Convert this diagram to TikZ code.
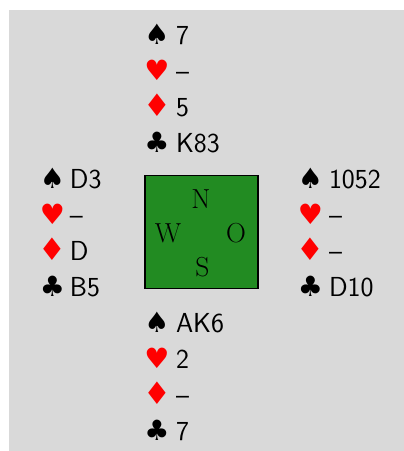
\documentclass[tikz,border=0pt]{standalone}
\usepackage{fontspec}
\newfontfamily\suitfont{DejaVu Sans}
\definecolor{tablegreen}{RGB}{34,139,34}
\definecolor{panelgray}{RGB}{217,217,217}
\begin{document}
\begin{tikzpicture}[x=1pt,y=-1pt,
  every node/.style={inner sep=0pt,outer sep=0pt},
  cards/.style={anchor=base west,font=\fontsize{27.5}{33}\selectfont\sffamily},
  suit/.style={anchor=base,font=\fontsize{28}{32}\selectfont\suitfont},
  redsuit/.style={suit,text=red},
  diamondsuit/.style={redsuit,font=\fontsize{31}{34}\selectfont\suitfont},
  seat/.style={font=\fontsize{27.5}{33}\selectfont\rmfamily}]
\useasboundingbox (0,0) rectangle (404,451);
\fill[panelgray] (9,10) rectangle (404,451);

% the table with the four seats
\node[draw=black,line width=1.5pt,fill=tablegreen,minimum size=113pt] (table) at (201.5,232) {};
\node[seat] (seatN) at (201,199) {N};
\node[seat] (seatW) at (168,233) {W};
\node[seat] (seatO) at (236,233) {O};
\node[seat] (seatS) at (202.5,267) {S};

% the four hands: suit symbol column, cards column, first baseline
\foreach \hn/\sx/\tx/\by/\sp/\he/\di/\cl in {
  N/157/176/44/7/\textendash/5/K83,
  W/52.5/70/188/D3/\textendash/D/B5,
  O/310.5/329/188/1052/\textendash/\textendash/D10,
  S/157/176/332/AK6/2/\textendash/7}{
  \node[suit]        (\hn-ssp) at (\sx,\by)        {♠};
  \node[redsuit]     (\hn-she) at (\sx,{\by+36})   {♥};
  \node[diamondsuit] (\hn-sdi) at (\sx,{\by+72})   {♦};
  \node[suit]        (\hn-scl) at (\sx,{\by+108})  {♣};
  \node[cards]       (\hn-csp) at (\tx,\by)        {\sp};
  \node[cards]       (\hn-che) at (\tx,{\by+36})   {\he};
  \node[cards]       (\hn-cdi) at (\tx,{\by+72})   {\di};
  \node[cards]       (\hn-ccl) at (\tx,{\by+108})  {\cl};
}
\end{tikzpicture}
\end{document}
